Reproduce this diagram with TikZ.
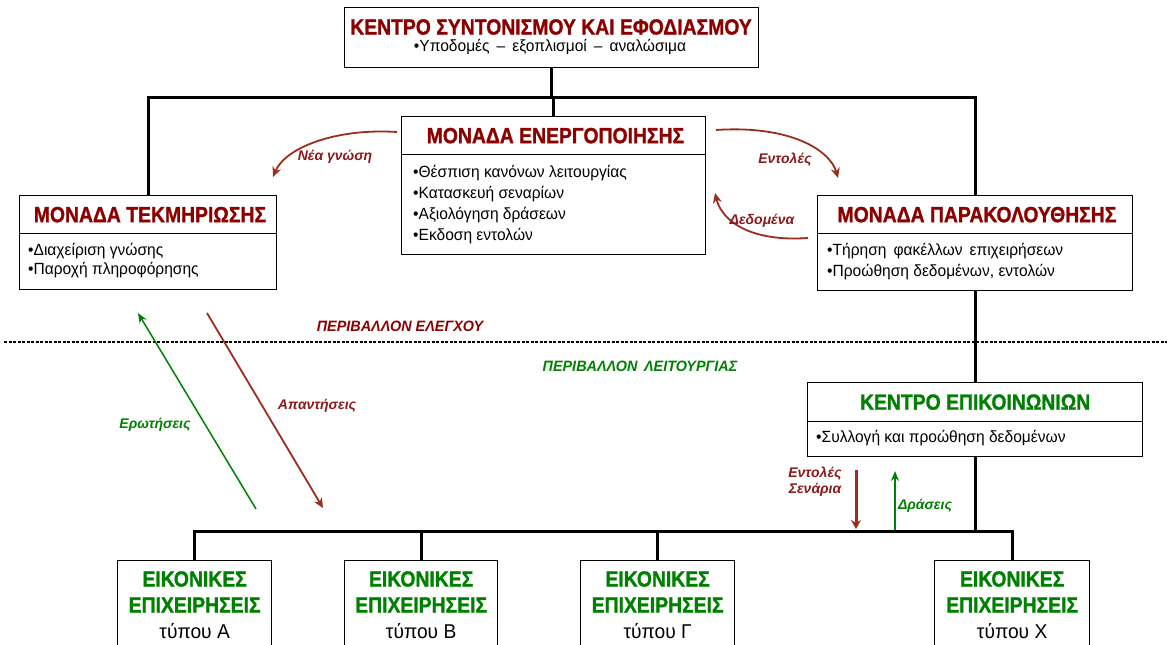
\documentclass[tikz,border=0pt]{standalone}
\usepackage{fontspec}
\setmainfont{Liberation Sans}
\newfontfamily\narr[FakeStretch=0.88, BoldFeatures={FakeBold=1.2}]{Liberation Sans}
\newfontfamily\bodyf[FakeStretch=0.96]{Liberation Sans}
\usetikzlibrary{arrows.meta}
\definecolor{titred}{RGB}{140,0,0}
\definecolor{arred}{RGB}{155,45,30}
\definecolor{lblred}{RGB}{140,25,25}
\definecolor{grn}{RGB}{0,128,0}
\tikzset{
  box/.style={draw=black, line width=1.3pt, inner sep=0pt, anchor=north west},
  conn/.style={line width=3pt, black},
  hdr/.style={font=\narr\bfseries\fontsize{22}{25}\selectfont, text=titred},
  bhdr/.style={font=\narr\bfseries\fontsize{22}{25}\selectfont, text=grn, inner sep=0pt},
  btyp/.style={font=\bodyf\fontsize{20}{24}\selectfont, inner sep=0pt},
  body/.style={font=\bodyf\fontsize{16.2}{19}\selectfont, anchor=west, inner sep=0pt},
  lbl/.style={font=\bfseries\itshape\fontsize{14}{16}\selectfont, inner sep=0pt},
  env/.style={font=\bodyf\bfseries\itshape\fontsize{15}{17}\selectfont, inner sep=0pt},
  redarr/.style={arred, line width=1.8pt, -{Stealth[length=10pt,width=9pt]}},
  grnarr/.style={grn, line width=1.5pt, -{Stealth[length=10pt,width=8pt]}},
  dotline/.style={black, line width=2pt, dash pattern=on 3pt off 1.5pt},
}
\begin{document}
\begin{tikzpicture}[x=1pt,y=-1pt]
\useasboundingbox (0,0) rectangle (1167,645);
% boxes
\node[box, minimum width=414pt, minimum height=60pt] (top) at (344,7) {};
\node[hdr] (topT) at (551,27) {ΚΕΝΤΡΟ ΣΥΝΤΟΝΙΣΜΟΥ ΚΑΙ ΕΦΟΔΙΑΣΜΟΥ};
\node[font=\bodyf\fontsize{16.2}{19}\selectfont, inner sep=0pt] (topS) at (550,47) {•Υποδομές \,–\, εξοπλισμοί \,–\, αναλώσιμα};

\node[box, minimum width=304pt, minimum height=38pt] (acth) at (401,116) {};
\node[hdr] at (acth.center) {\,ΜΟΝΑΔΑ ΕΝΕΡΓΟΠΟΙΗΣΗΣ};
\node[box, minimum width=304pt, minimum height=100pt] (actb) at (401,154) {};
\node[body] (a1) at (413,173) {•Θέσπιση κανόνων λειτουργίας};
\node[body] (a2) at (413,194) {•Κατασκευή σεναρίων};
\node[body] (a3) at (413,215) {•Αξιολόγηση δράσεων};
\node[body] (a4) at (413,236) {•Εκδοση εντολών};

\node[box, minimum width=257pt, minimum height=38pt] (tekh) at (19,195) {};
\node[hdr] at (tekh.center) {\,ΜΟΝΑΔΑ ΤΕΚΜΗΡΙΩΣΗΣ};
\node[box, minimum width=257pt, minimum height=56pt] (tekb) at (19,233) {};
\node[body] (t1) at (28,251) {•Διαχείριση γνώσης};
\node[body] (t2) at (28,270) {•Παροχή πληροφόρησης};

\node[box, minimum width=315pt, minimum height=38pt] (parh) at (817,195) {};
\node[hdr] at (parh.center) {\,ΜΟΝΑΔΑ ΠΑΡΑΚΟΛΟΥΘΗΣΗΣ};
\node[box, minimum width=315pt, minimum height=57pt] (parb) at (817,233) {};
\node[body] (p1) at (827,251) {•Τήρηση \,φακέλλων \,επιχειρήσεων};
\node[body] (p2) at (827,272) {•Προώθηση δεδομένων, εντολών};

\node[box, minimum width=335pt, minimum height=39pt] (kepih) at (807,382) {};
\node[hdr, text=grn] at (kepih.center) {ΚΕΝΤΡΟ ΕΠΙΚΟΙΝΩΝΙΩΝ};
\node[box, minimum width=335pt, minimum height=35pt] (kepib) at (807,421) {};
\node[body] (k1) at (816,438) {•Συλλογή και προώθηση δεδομένων};

\node[box, minimum width=154pt, minimum height=95pt] (bA) at (117,560) {};
\node[box, minimum width=153pt, minimum height=95pt] (bB) at (344,560) {};
\node[box, minimum width=154pt, minimum height=95pt] (bG) at (580,560) {};
\node[box, minimum width=155pt, minimum height=95pt] (bX) at (934,560) {};
\foreach \b/\t in {bA/Α, bB/Β, bG/Γ, bX/Χ}{
  \node[bhdr] at (\b.north |- 0,579) {ΕΙΚΟΝΙΚΕΣ};
  \node[bhdr] at (\b.north |- 0,605) {ΕΠΙΧΕΙΡΗΣΕΙΣ};
  \node[btyp] at (\b.north |- 0,631) {τύπου \t};
}

% connectors
\coordinate (busT) at (552,97);
\coordinate (busB) at (973,531);
\draw[conn] (top.south) -- (top.south |- busT);
\draw[conn] (tekh.north) -- (tekh.north |- busT) -- (parh.north |- busT) -- (parh.north);
\draw[conn] (acth.north) -- (acth.north |- busT);
\draw[conn] (parb.south) -- (kepih.north);
\draw[conn] (kepib.south) -- (kepib.south |- busB);
\draw[conn] (bA.north) -- (bA.north |- busB) -- (bX.north |- busB) -- (bX.north);
\draw[conn] (bB.north) -- (bB.north |- busB);
\draw[conn] (bG.north) -- (bG.north |- busB);

% dotted divider
\coordinate (dl1) at (4,342);
\coordinate (dl2) at (1167,342);
\draw[dotline] (dl1) -- (dl2);
\node[env, text=titred] (envC) at (400,326) {ΠΕΡΙΒΑΛΛΟΝ ΕΛΕΓΧΟΥ};
\node[env, text=grn] (envO) at (640,366) {ΠΕΡΙΒΑΛΛΟΝ \,ΛΕΙΤΟΥΡΓΙΑΣ};

% curved arrows
\coordinate (ng1) at (397,132);
\coordinate (ng2) at (273,177);
\draw[redarr] (ng1) .. controls (335,128) and (285,148) .. (ng2);
\node[lbl, text=lblred] at (335,157) {Νέα γνώση};
\coordinate (en1) at (716,130);
\coordinate (en2) at (838,178);
\draw[redarr] (en1) .. controls (790,125) and (830,150) .. (en2);
\node[lbl, text=lblred] at (785,160) {Εντολές};
\coordinate (de1) at (808,238);
\coordinate (de2) at (715,193);
\draw[redarr] (de1) .. controls (752,242) and (722,222) .. (de2);
\node[lbl, text=lblred] at (762,221) {Δεδομένα};

% diagonal arrows
\coordinate (q1) at (256,509);
\coordinate (q2) at (138,313);
\draw[grnarr] (q1) -- (q2);
\node[lbl, text=grn] at (155,425) {Ερωτήσεις};
\coordinate (r1) at (207,313);
\coordinate (r2) at (323,508);
\draw[redarr] (r1) -- (r2);
\node[lbl, text=lblred] at (317,406) {Απαντήσεις};

% vertical arrows
\coordinate (v1) at (856,470);
\coordinate (v2) at (856,529);
\draw[arred, line width=3pt, -{Stealth[length=9pt,width=10pt]}] (v1) -- (v2);
\node[lbl, text=lblred, align=center] at (815,482) {Εντολές\\[0pt]Σενάρια};
\coordinate (w1) at (895,530);
\coordinate (w2) at (895,471);
\draw[grnarr] (w1) -- (w2);
\node[lbl, text=grn] at (925,506) {Δράσεις};
\end{tikzpicture}
\end{document}
